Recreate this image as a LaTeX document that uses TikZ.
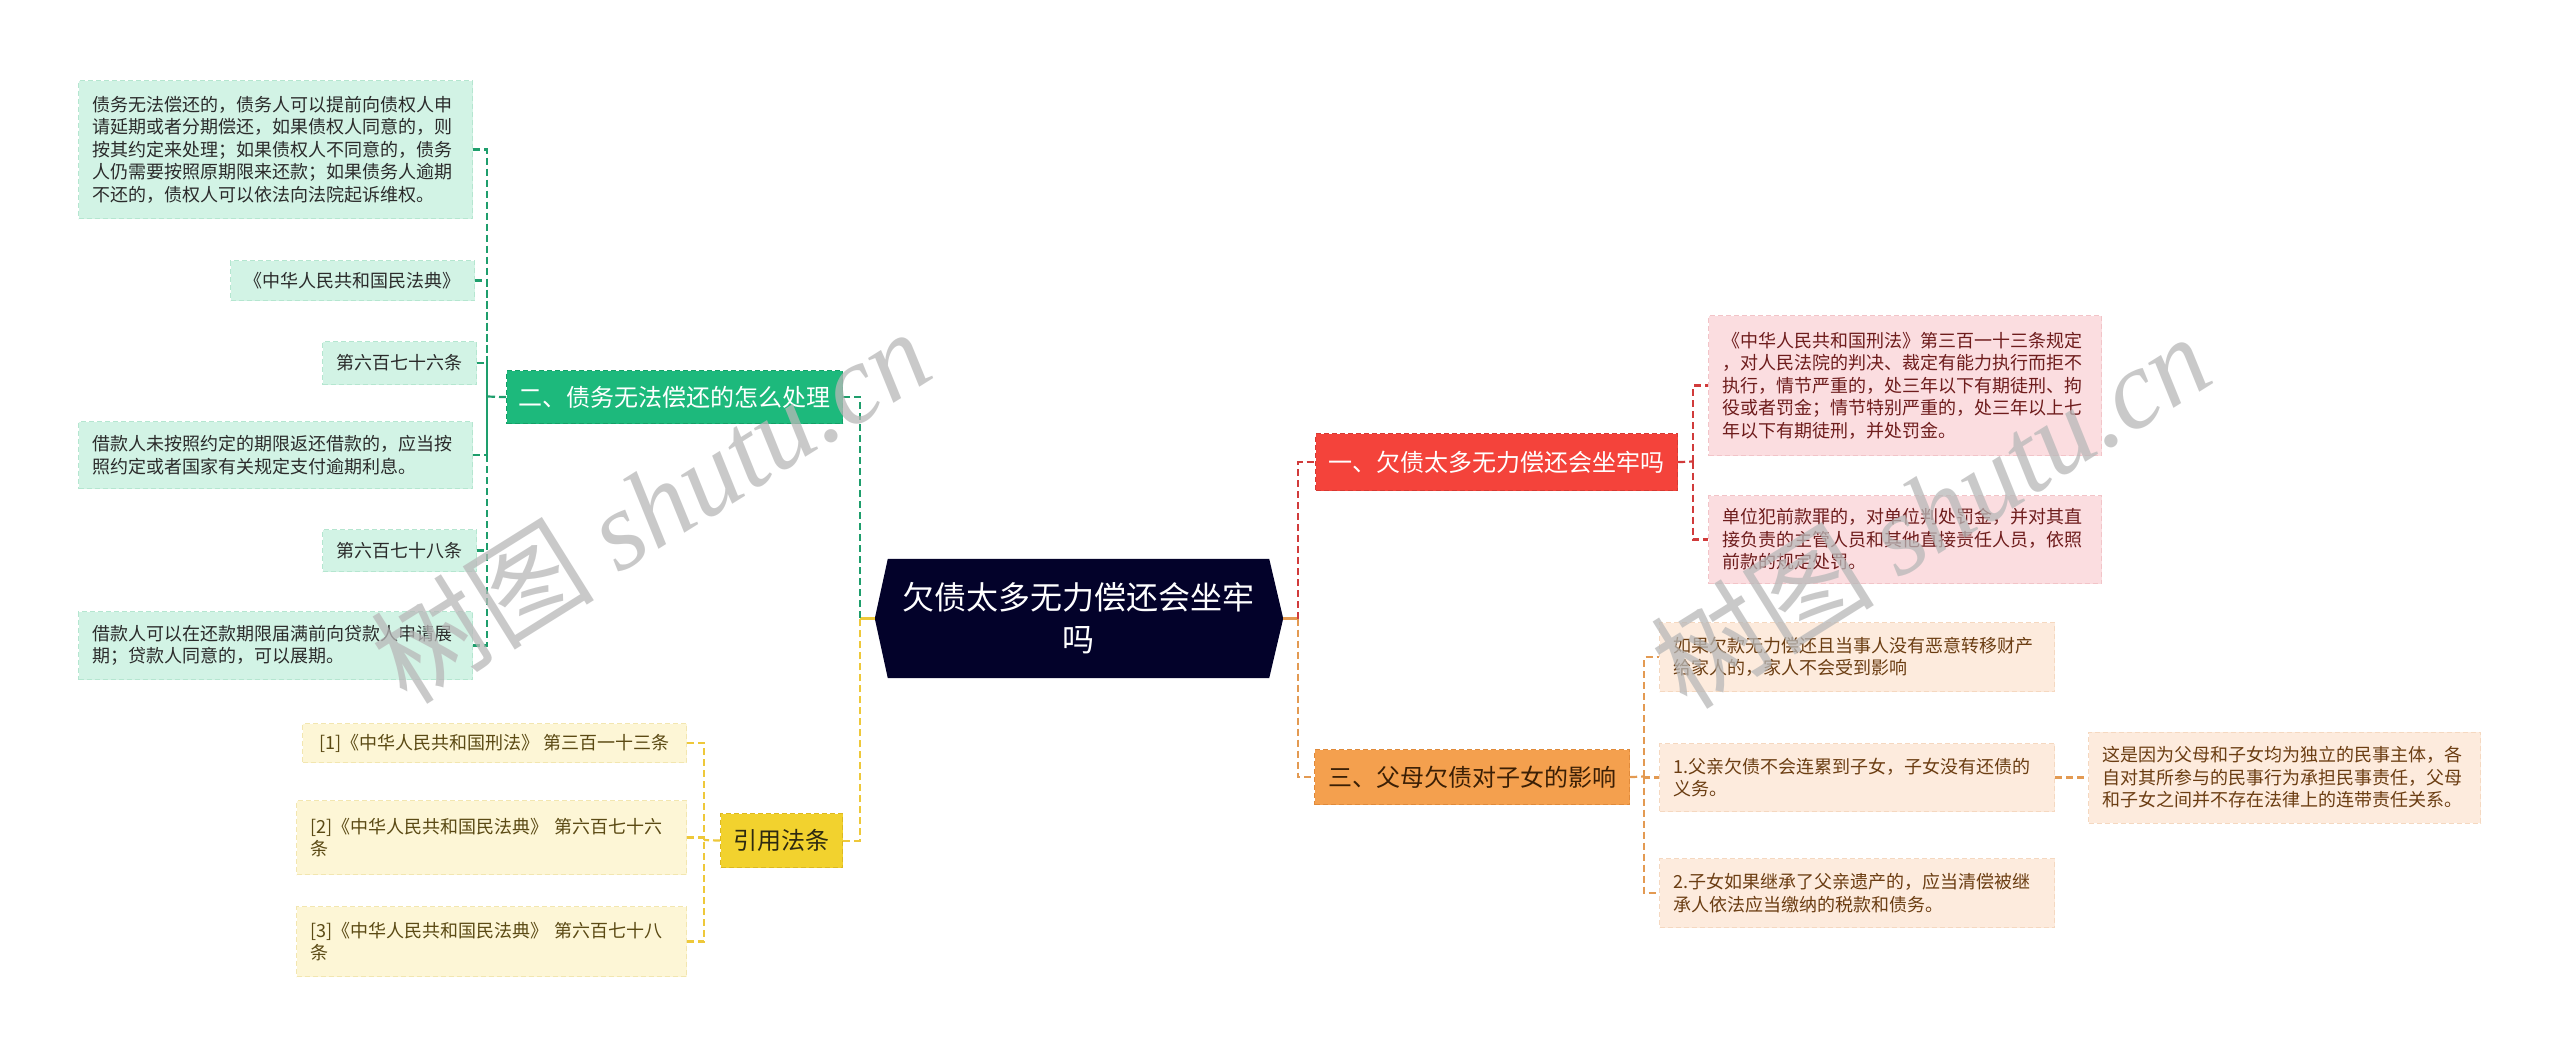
\documentclass[tikz,border=0pt]{standalone}
\usepackage{fontspec}
\setmainfont{Noto Sans CJK SC}
\newfontfamily\wmserif{Liberation Serif}
\usetikzlibrary{backgrounds}
\definecolor{centF}{HTML}{03022A}
\definecolor{gBrF}{HTML}{1DB97C}
\definecolor{gBrD}{HTML}{14A068}
\definecolor{gLfF}{HTML}{D2F3E5}
\definecolor{gLfD}{HTML}{B5E6D0}
\definecolor{gLn}{HTML}{1E9E6C}
\definecolor{gTx}{HTML}{2B2B2B}
\definecolor{rBrF}{HTML}{F4433B}
\definecolor{rBrD}{HTML}{D63A33}
\definecolor{rLfF}{HTML}{FBDDE0}
\definecolor{rLfD}{HTML}{F2C4C8}
\definecolor{rLn}{HTML}{D13B3B}
\definecolor{rTx}{HTML}{6E1C1C}
\definecolor{oBrF}{HTML}{F4A04E}
\definecolor{oBrD}{HTML}{E08A3A}
\definecolor{oLfF}{HTML}{FDEBDD}
\definecolor{oLfD}{HTML}{F5D8C0}
\definecolor{oLn}{HTML}{E39A52}
\definecolor{oTx}{HTML}{6B3D12}
\definecolor{oBTx}{HTML}{3B1F05}
\definecolor{yBrF}{HTML}{F2D22E}
\definecolor{yBrD}{HTML}{DDB920}
\definecolor{yLfF}{HTML}{FDF6D6}
\definecolor{yLfD}{HTML}{F2E6B0}
\definecolor{yLn}{HTML}{EEC83A}
\definecolor{yTx}{HTML}{5B4A14}
\definecolor{yBTx}{HTML}{2E2A10}
\definecolor{wmC}{HTML}{B8B8B8}
\tikzset{
  base/.style={rectangle, anchor=north west, inner xsep=14pt, inner ysep=0pt,
    line width=1pt, dash pattern=on 5pt off 3pt,
    font=\fontsize{18}{22.5}\selectfont, align=left},
  gleaf/.style={base, fill=gLfF, draw=gLfD, text=gTx},
  rleaf/.style={base, fill=rLfF, draw=rLfD, text=rTx},
  oleaf/.style={base, fill=oLfF, draw=oLfD, text=oTx},
  yleaf/.style={base, fill=yLfF, draw=yLfD, text=yTx},
  branch/.style={rectangle, anchor=north west, inner sep=0pt, line width=1.2pt,
    dash pattern=on 5pt off 3pt, font=\fontsize{24}{28}\selectfont},
  gbr/.style={branch, fill=gBrF, draw=gBrD, text=white},
  rbr/.style={branch, fill=rBrF, draw=rBrD, text=white},
  obr/.style={branch, fill=oBrF, draw=oBrD, text=oBTx},
  ybr/.style={branch, fill=yBrF, draw=yBrD, text=yBTx},
  conn/.style={line width=2.2pt, dash pattern=on 7pt off 4pt},
  stub/.style={line width=2.2pt},
  wm/.style={text=wmC, text opacity=0.75, rotate=32, inner sep=0pt,
    font=\fontsize{112}{112}\selectfont}
}
\begin{document}
\begin{tikzpicture}[x=1pt,y=-1pt]
\useasboundingbox (0,0) rectangle (2560,1055);
\begin{scope}[on background layer]
\fill[white] (0,0) rectangle (2560,1055);
\end{scope}

% central
\node[minimum width=381pt, minimum height=119pt, inner sep=0pt, text=white,
  align=center, font=\fontsize{32}{42}\selectfont] (c) at (1078.5,618.5)
  {欠债太多无力偿还会坐牢\\吗};
\begin{scope}[on background layer]
\fill[centF] (c.north west) -- (c.north east) -- ([xshift=14pt]c.east)
  -- (c.south east) -- (c.south west) -- ([xshift=-13pt]c.west) -- cycle;
\end{scope}
\coordinate (cl) at ([xshift=-13pt]c.west);
\coordinate (cr) at ([xshift=14pt]c.east);
\coordinate (tl) at (860,618.5);
\coordinate (tr) at (1298,618.5);

% branches
\node[gbr, minimum width=336pt, minimum height=53pt] (G) at (506,370) {二、债务无法偿还的怎么处理};
\node[ybr, minimum width=122pt, minimum height=54pt] (Y) at (720,813) {引用法条};
\node[rbr, minimum width=362pt, minimum height=57pt] (R) at (1315,433) {一、欠债太多无力偿还会坐牢吗};
\node[obr, minimum width=315pt, minimum height=55pt] (O) at (1314,749) {三、父母欠债对子女的影响};

% green leaves
\node[gleaf, minimum height=138pt, text width=366pt] (L1) at (78,80)
  {债务无法偿还的，债务人可以提前向债权人申\\请延期或者分期偿还，如果债权人同意的，则\\按其约定来处理；如果债权人不同意的，债务\\人仍需要按照原期限来还款；如果债务人逾期\\不还的，债权人可以依法向法院起诉维权。};
\node[gleaf, minimum width=242pt, minimum height=40pt] (L2) at (230,260) {《中华人民共和国民法典》};
\node[gleaf, minimum width=150pt, minimum height=43pt] (L3) at (322,341) {第六百七十六条};
\node[gleaf, minimum height=67pt, text width=366pt] (L4) at (78,421)
  {借款人未按照约定的期限返还借款的，应当按\\照约定或者国家有关规定支付逾期利息。};
\node[gleaf, minimum width=150pt, minimum height=42pt] (L5) at (322,529) {第六百七十八条};
\node[gleaf, minimum height=68pt, text width=366pt] (L6) at (78,611)
  {借款人可以在还款期限届满前向贷款人申请展\\期；贷款人同意的，可以展期。};

% yellow leaves
\node[yleaf, minimum width=384pt, minimum height=39pt] (Y1) at (302,723) {[1]《中华人民共和国刑法》 第三百一十三条};
\node[yleaf, minimum height=74pt, text width=362pt] (Y2) at (296,800)
  {[2]《中华人民共和国民法典》 第六百七十六\\条};
\node[yleaf, minimum height=70pt, text width=362pt] (Y3) at (296,906)
  {[3]《中华人民共和国民法典》 第六百七十八\\条};

% red leaves
\node[rleaf, minimum height=140pt, text width=365pt] (R1) at (1708,315)
  {《中华人民共和国刑法》第三百一十三条规定\\，对人民法院的判决、裁定有能力执行而拒不\\执行，情节严重的，处三年以下有期徒刑、拘\\役或者罚金；情节特别严重的，处三年以上七\\年以下有期徒刑，并处罚金。};
\node[rleaf, minimum height=88pt, text width=365pt] (R2) at (1708,495)
  {单位犯前款罪的，对单位判处罚金，并对其直\\接负责的主管人员和其他直接责任人员，依照\\前款的规定处罚。};

% orange leaves
\node[oleaf, minimum height=69pt, text width=367pt] (O1) at (1659,622)
  {如果欠款无力偿还且当事人没有恶意转移财产\\给家人的，家人不会受到影响};
\node[oleaf, minimum height=68pt, text width=367pt] (O2) at (1659,743)
  {1.父亲欠债不会连累到子女，子女没有还债的\\义务。};
\node[oleaf, minimum height=69pt, text width=367pt] (O3) at (1659,858)
  {2.子女如果继承了父亲遗产的，应当清偿被继\\承人依法应当缴纳的税款和债务。};
\node[oleaf, minimum height=91pt, text width=364pt] (O4) at (2088,731.5)
  {这是因为父母和子女均为独立的民事主体，各\\自对其所参与的民事行为承担民事责任，父母\\和子女之间并不存在法律上的连带责任关系。};

% trunk connectors
\draw[stub, yLn] (cl) -- (tl);
\draw[conn, gLn] (G.east) -| (tl);
\draw[conn, yLn] (Y.east) -| (tl);
\draw[stub, oLn] (cr) -- (tr);
\draw[conn, rLn] (tr) |- (R.west);
\draw[conn, oLn] (tr) |- (O.west);

% green leaf connectors
\coordinate (gv) at (487,396.5);
\draw[conn, gLn] (G.west) -- (gv);
\foreach \n in {L1,L2,L3,L4,L5,L6} \draw[conn, gLn] (\n.east) -| (gv);

% yellow leaf connectors
\coordinate (yv) at (704,840);
\draw[conn, yLn] (Y.west) -- (yv);
\foreach \n in {Y1,Y2,Y3} \draw[conn, yLn] (\n.east) -| (yv);

% red leaf connectors
\coordinate (rv) at (1693,461.5);
\draw[conn, rLn] (R.east) -- (rv);
\foreach \n in {R1,R2} \draw[conn, rLn] (rv) |- (\n.west);

% orange leaf connectors
\coordinate (ov) at (1644,776.5);
\draw[conn, oLn] (O.east) -- (ov);
\foreach \n in {O1,O2,O3} \draw[conn, oLn] (ov) |- (\n.west);
\draw[conn, oLn] (O2.east) -- (O2.east -| O4.west);

% watermarks
\node[wm] (wm1) at (650,505) {树图 {\wmserif\itshape shutu.cn}};
\node[wm] (wm2) at (1930,510) {树图 {\wmserif\itshape shutu.cn}};
\end{tikzpicture}
\end{document}
